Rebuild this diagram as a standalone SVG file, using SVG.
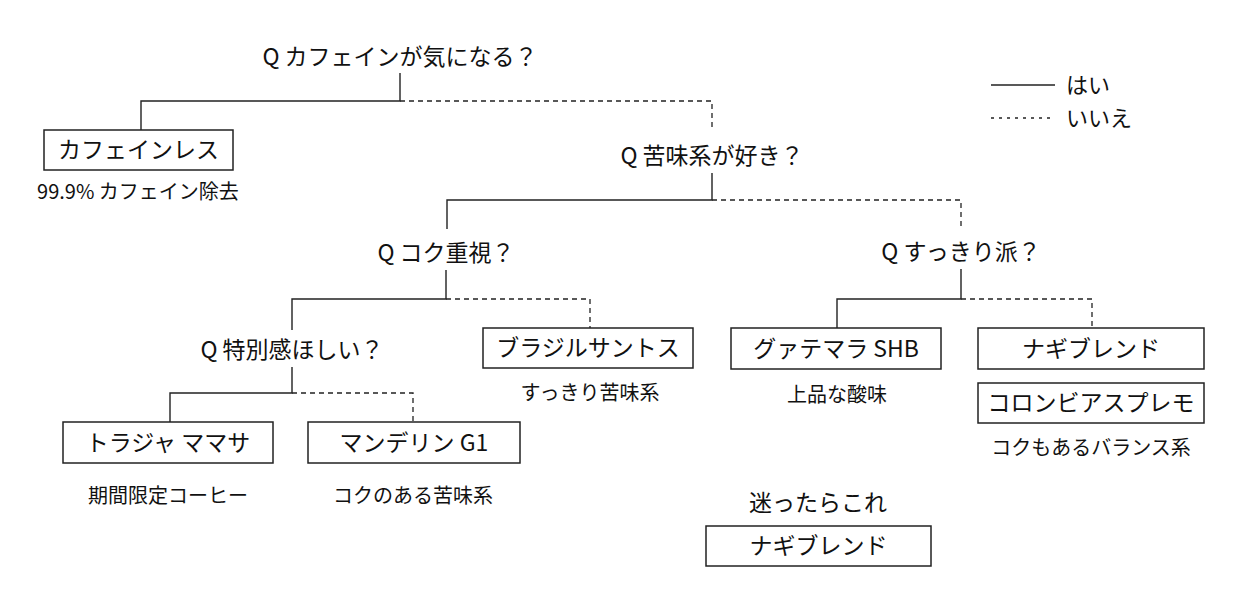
<svg xmlns="http://www.w3.org/2000/svg" width="1238" height="616" viewBox="0 0 1238 616">
<style>
text{font-family:"Noto Sans CJK JP","Noto Sans",sans-serif;fill:#111;text-anchor:middle}
.q{font-size:23px}
.b{font-size:23px}
.s{font-size:20px}
.lg{font-size:22px;text-anchor:start}
.box{fill:#fff;stroke:#222;stroke-width:1.5}
.yes{fill:none;stroke:#222;stroke-width:1.4}
.no{fill:none;stroke:#222;stroke-width:1.3;stroke-dasharray:5 4}
</style>
<rect width="1238" height="616" fill="#fff"/>
<g id="connectors">
<path class="yes" d="M400 73V101H141V130"/>
<path class="no" d="M400 101H712V130"/>
<path class="yes" d="M712 173V200H447V229"/>
<path class="no" d="M712 200H961V229"/>
<path class="yes" d="M446 270V299H292V330"/>
<path class="no" d="M446 299H590V328"/>
<path class="yes" d="M292 367V393H170V422"/>
<path class="no" d="M292 393H413V422"/>
<path class="yes" d="M961 269V299H837V328"/>
<path class="no" d="M961 299H1092V328"/>
</g>
<g id="legend">
<line class="yes" x1="991" y1="85" x2="1055" y2="85"/>
<line class="no" x1="991" y1="118" x2="1055" y2="118" style="stroke-dasharray:3 5"/>
<text class="lg" x="1066" y="93">はい</text>
<text class="lg" x="1066" y="126">いいえ</text>
</g>
<g id="q1"><text class="q" x="400" y="65">Q カフェインが気になる？</text></g>
<g id="q2"><text class="q" x="712" y="164">Q 苦味系が好き？</text></g>
<g id="q3"><text class="q" x="446" y="261">Q コク重視？</text></g>
<g id="q4"><text class="q" x="292" y="358">Q 特別感ほしい？</text></g>
<g id="q5"><text class="q" x="961" y="260">Q すっきり派？</text></g>
<g id="decaf">
<rect class="box" x="44" y="130" width="189" height="40"/>
<text class="b" x="138.5" y="158">カフェインレス</text>
<text class="s" x="138" y="199">99.9% カフェイン除去</text>
</g>
<g id="brazil">
<rect class="box" x="483" y="328" width="210" height="40"/>
<text class="b" x="588" y="356">ブラジルサントス</text>
<text class="s" x="590" y="400">すっきり苦味系</text>
</g>
<g id="toraja">
<rect class="box" x="63" y="422" width="210" height="41"/>
<text class="b" x="168" y="451">トラジャ ママサ</text>
<text class="s" x="168" y="503">期間限定コーヒー</text>
</g>
<g id="mandheling">
<rect class="box" x="308" y="422" width="212" height="41"/>
<text class="b" x="414" y="451">マンデリン G1</text>
<text class="s" x="413" y="503">コクのある苦味系</text>
</g>
<g id="guatemala">
<rect class="box" x="731" y="328" width="210" height="41"/>
<text class="b" x="836" y="357">グァテマラ SHB</text>
<text class="s" x="837" y="402">上品な酸味</text>
</g>
<g id="nagi">
<rect class="box" x="978" y="328" width="226" height="41"/>
<text class="b" x="1091" y="357">ナギブレンド</text>
</g>
<g id="colombia">
<rect class="box" x="978" y="383" width="226" height="40"/>
<text class="b" x="1091" y="411">コロンビアスプレモ</text>
<text class="s" x="1091" y="455">コクもあるバランス系</text>
</g>
<g id="recommend">
<text class="q" x="818" y="511">迷ったらこれ</text>
<rect class="box" x="706" y="526" width="225" height="40"/>
<text class="b" x="818.5" y="554">ナギブレンド</text>
</g>
</svg>
